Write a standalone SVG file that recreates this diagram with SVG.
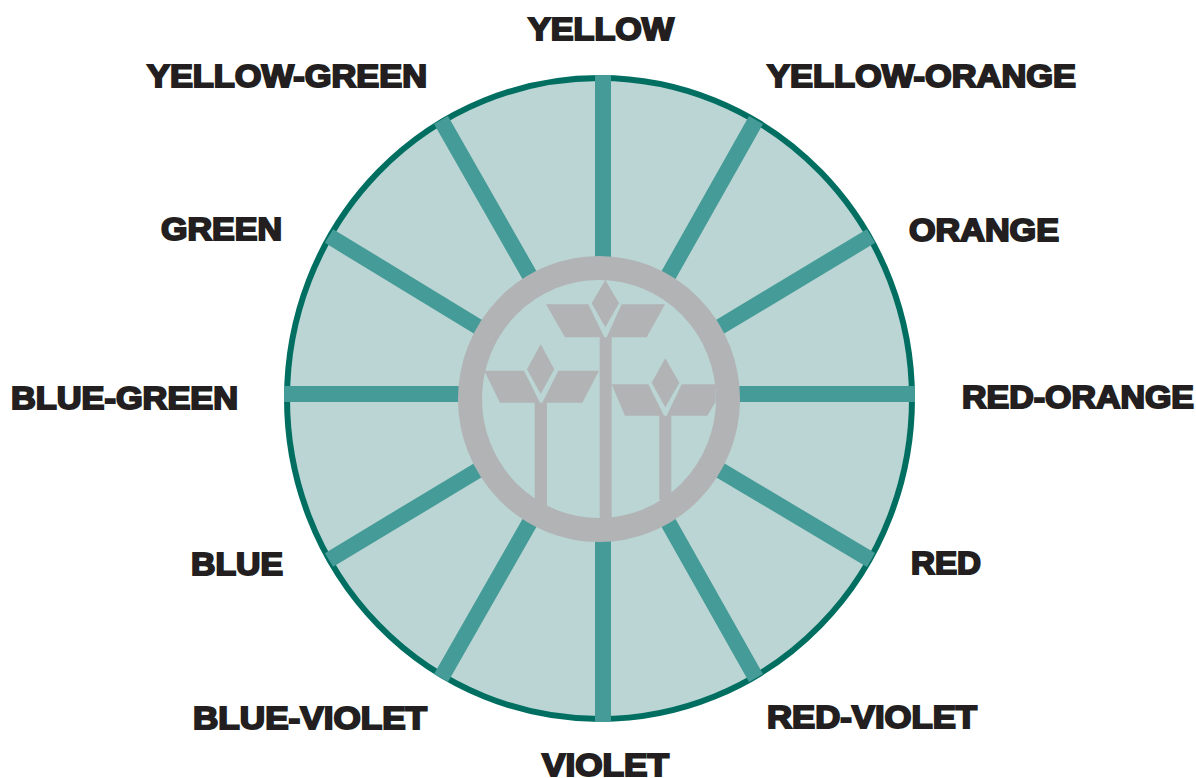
<svg xmlns="http://www.w3.org/2000/svg" width="1196" height="778" viewBox="0 0 1196 778">
<style>
.s{stroke:#459b97;stroke-width:16;fill:none}
.l{font-family:"Liberation Sans",Arial,sans-serif;font-weight:700;font-size:32px;fill:#231f20;stroke:#231f20;stroke-width:2px}
.g{fill:#b2b3b5}
</style>
<rect width="1196" height="778" fill="#fff"/>
<g id="wheel"><ellipse cx="599.5" cy="398.5" rx="312.5" ry="320.5" fill="#bad5d3" stroke="#006f62" stroke-width="6"/></g>
<g id="connectors">
<path class="s" d="M603 75V260M603 538V722M284 394H462M736 394H915M756 120L668 276M441 120L530 276M871 236L718 328M329 236L480 328M329 560L480 469M871 560L718 469M441 678L530 522M756 678L668 522"/>
</g>
<g id="logo">
<ellipse cx="599" cy="399" rx="129" ry="131" fill="none" stroke="#b2b3b5" stroke-width="24"/>
<g class="g" transform="translate(450 250) scale(.33333)">
<path d="M466 90L507 160L466 232L425 160ZM288 163H415L463 262H345ZM515 163H645L590 262H470ZM449 262H485V810H449Z"/>
<path d="M272 283L313 358L272 432L231 358ZM103 362H222L270 458H150ZM325 362H447L397 458H277ZM254 458H291V780H254Z"/>
<path d="M646 325L688 398L646 472L605 398ZM485 403H595L642 497H525ZM695 403H797V455L772 497H650ZM628 497H664V750H628Z"/>
</g>
</g>
<g id="labels">
<text class="l" x="528" y="40" textLength="146" lengthAdjust="spacingAndGlyphs">YELLOW</text>
<text class="l" x="147" y="87" textLength="280" lengthAdjust="spacingAndGlyphs">YELLOW-GREEN</text>
<text class="l" x="767" y="87" textLength="309" lengthAdjust="spacingAndGlyphs">YELLOW-ORANGE</text>
<text class="l" x="161" y="240" textLength="121" lengthAdjust="spacingAndGlyphs">GREEN</text>
<text class="l" x="909" y="241" textLength="150" lengthAdjust="spacingAndGlyphs">ORANGE</text>
<text class="l" x="11" y="409" textLength="227" lengthAdjust="spacingAndGlyphs">BLUE-GREEN</text>
<text class="l" x="962" y="408" textLength="232" lengthAdjust="spacingAndGlyphs">RED-ORANGE</text>
<text class="l" x="191" y="575" textLength="92" lengthAdjust="spacingAndGlyphs">BLUE</text>
<text class="l" x="911" y="574" textLength="70" lengthAdjust="spacingAndGlyphs">RED</text>
<text class="l" x="193" y="729" textLength="234" lengthAdjust="spacingAndGlyphs">BLUE-VIOLET</text>
<text class="l" x="767" y="728" textLength="210" lengthAdjust="spacingAndGlyphs">RED-VIOLET</text>
<text class="l" x="542" y="776" textLength="127" lengthAdjust="spacingAndGlyphs">VIOLET</text>
</g>
</svg>
